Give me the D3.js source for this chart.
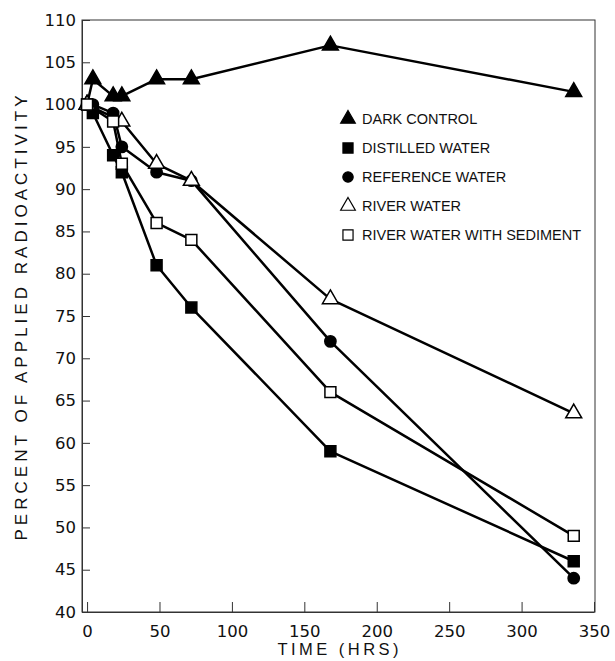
<!DOCTYPE html>
<html>
<head>
<meta charset="utf-8">
<script src="https://cdn.jsdelivr.net/npm/d3@7"></script>
<style>
  body { margin: 0; background: #fff; }
  svg { display: block; font-family: "Liberation Sans", Arial, sans-serif; }
</style>
</head>
<body>
<script>
// hours after application / percent of applied radioactivity
const darkHours = [0, 4, 18, 24, 48, 72, 168, 336],
  darkVals = [100, 103, 101, 101, 103, 103, 107, 101.5];
const distilledHours = [0, 4, 18, 24, 48, 72, 168, 336],
  distilledVals = [100, 99, 94, 92, 81, 76, 59, 46];
const referenceHours = [0, 4, 18, 24, 48, 72, 168, 336],
  referenceVals = [100, 100, 99, 95, 92, 91, 72, 44];
const riverHours = [0, 24, 48, 72, 168, 336],
  riverVals = [100, 98, 93, 91, 77, 63.5];
const sedimentHours = [0, 18, 24, 48, 72, 168, 336],
  sedimentVals = [100, 98, 93, 86, 84, 66, 49];

const seriesNames = [
  "DARK CONTROL",
  "DISTILLED WATER",
  "REFERENCE WATER",
  "RIVER WATER",
  "RIVER WATER WITH SEDIMENT"
];
const xTicks = [0, 50, 100, 150, 200, 250, 300, 350];
const yTicks = [40, 45, 50, 55, 60, 65, 70, 75, 80, 85, 90, 95, 100, 105, 110];

const width = 615, height = 661;
const plotLeft = 82, plotRight = 595, plotTop = 20, plotBottom = 612;

const series = [
  { name: seriesNames[0], shape: d3.symbolTriangle, fill: "#000", size: 110, hours: darkHours, vals: darkVals },
  { name: seriesNames[1], shape: d3.symbolSquare, fill: "#000", size: 120, hours: distilledHours, vals: distilledVals },
  { name: seriesNames[2], shape: d3.symbolCircle, fill: "#000", size: 100, hours: referenceHours, vals: referenceVals },
  { name: seriesNames[3], shape: d3.symbolTriangle, fill: "#fff", size: 110, hours: riverHours, vals: riverVals },
  { name: seriesNames[4], shape: d3.symbolSquare, fill: "#fff", size: 120, hours: sedimentHours, vals: sedimentVals }
];
series.forEach((s) => {
  s.points = s.hours.map((h, i) => ({ h, v: s.vals[i] }));
});

const x = d3.scaleLinear().domain([-3.5, 350]).range([plotLeft, 594]);
const y = d3.scaleLinear().domain([40, 110]).range([plotBottom, plotTop]);

const svg = d3
  .select("body")
  .append("svg")
  .attr("width", width)
  .attr("height", height);

// frame
svg
  .append("rect")
  .attr("x", plotLeft)
  .attr("y", plotTop)
  .attr("width", plotRight - plotLeft)
  .attr("height", plotBottom - plotTop)
  .attr("fill", "none")
  .attr("stroke", "#333")
  .attr("stroke-width", 1);

const xAxis = svg
  .append("g")
  .attr("transform", `translate(0,${plotBottom})`)
  .call(d3.axisBottom(x).tickValues(xTicks).tickSize(-10).tickSizeOuter(0).tickPadding(12));

const yAxis = svg
  .append("g")
  .attr("transform", `translate(${plotLeft},0)`)
  .call(d3.axisLeft(y).tickValues(yTicks).tickSize(-8).tickSizeOuter(0).tickPadding(6));

[xAxis, yAxis].forEach((g) => {
  g.select(".domain").attr("stroke", "#333");
  g.selectAll(".tick line").attr("stroke", "#333");
  g.selectAll(".tick text")
    .attr("fill", "#111")
    .attr("font-family", "DejaVu Sans, sans-serif")
    .attr("font-size", 16.5);
});
xAxis.selectAll(".tick text").attr("dy", "0.8em");

svg
  .append("text")
  .attr("x", 338)
  .attr("y", 655)
  .attr("text-anchor", "middle")
  .attr("font-size", 16.5)
  .attr("textLength", 121)
  .attr("lengthAdjust", "spacing")
  .attr("fill", "#111")
  .text("TIME (HRS)");

svg
  .append("text")
  .attr("transform", "translate(27,318) rotate(-90)")
  .attr("text-anchor", "middle")
  .attr("font-size", 17)
  .attr("textLength", 445)
  .attr("lengthAdjust", "spacing")
  .attr("fill", "#111")
  .text("PERCENT OF APPLIED RADIOACTIVITY");

const line = d3
  .line()
  .x((d) => x(d.h))
  .y((d) => y(d.v));

svg
  .append("g")
  .attr("fill", "none")
  .attr("stroke", "#000")
  .attr("stroke-width", 2.5)
  .attr("stroke-linejoin", "round")
  .selectAll("path")
  .data(series)
  .join("path")
  .attr("d", (s) => line(s.points));

series.forEach((s) => {
  svg
    .append("g")
    .selectAll("path")
    .data(s.points)
    .join("path")
    .attr("transform", (d) => `translate(${x(d.h)},${y(d.v)})`)
    .attr("d", d3.symbol(s.shape, s.size))
    .attr("fill", s.fill)
    .attr("stroke", "#000")
    .attr("stroke-width", 1.5);
});

// legend
const legend = svg
  .append("g")
  .selectAll("g")
  .data(series)
  .join("g")
  .attr("transform", (d, i) => `translate(348,${119 + i * 29})`);

legend
  .append("path")
  .attr("d", (s) => d3.symbol(s.shape, s.size * 0.85)())
  .attr("fill", (s) => s.fill)
  .attr("stroke", "#000")
  .attr("stroke-width", 1.2);

legend
  .append("text")
  .attr("x", 14)
  .attr("dy", "0.36em")
  .attr("font-size", 14.5)
  .attr("fill", "#111")
  .text((s) => s.name);
</script>
</body>
</html>
